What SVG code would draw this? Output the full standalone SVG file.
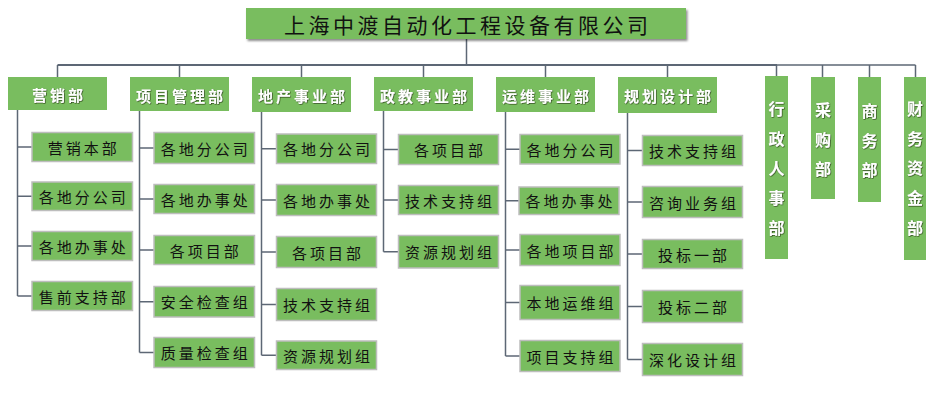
<svg xmlns="http://www.w3.org/2000/svg" width="938" height="419" viewBox="0 0 938 419">
<defs>
<filter id="sh" x="-5%" y="-20%" width="110%" height="150%">
<feDropShadow dx="1.5" dy="2" stdDeviation="1.2" flood-color="#000" flood-opacity="0.45"/>
</filter>
<filter id="ts" x="-10%" y="-20%" width="120%" height="140%">
<feDropShadow dx="0.6" dy="0.6" stdDeviation="0.4" flood-color="#1a2a10" flood-opacity="0.9"/>
</filter>
<style>
.title{fill:#79bd5f;filter:url(#sh)}
.dept{fill:#79bd5f}
.child{fill:#79bd5f;stroke:#bdbdbd;stroke-width:1.5}
text{font-family:"Noto Sans CJK SC","Noto Sans CJK TC",sans-serif;dominant-baseline:central;text-anchor:middle}
.tt{font-size:21px;letter-spacing:3.5px;fill:#111}
.dt{font-size:15px;font-weight:bold;letter-spacing:3px;fill:#fff;filter:url(#ts)}
.vt{font-size:16px;font-weight:bold;fill:#fff;filter:url(#ts)}
.ct{font-size:15px;letter-spacing:3px;fill:#111}
.ln{fill:none;stroke:#5d6775;stroke-width:1.5}
.bus{fill:none;stroke:#5d6775;stroke-width:2}
</style>
</defs>
<rect width="938" height="419" fill="#fff"/>
<g id="connectors">
<path class="ln" d="M466.5 39V65"/>
<path class="bus" d="M57.5 65H777"/>
<path class="ln" d="M777 65H915.5"/>
<path class="ln" d="M57.5 65V77M179.5 65V77M301.5 65V77M423.5 65V77M545.5 65V77M667.5 65V77M776.5 65V76M822.5 65V77M869.5 65V77M915.5 65V77"/>
<path class="ln" d="M17.5 110V296M17.5 147H32M17.5 196.3H32M17.5 246H32M17.5 296H32"/>
<path class="ln" d="M139.5 111V352.5M139.5 148H154M139.5 199H154M139.5 250H154M139.5 301.7H154M139.5 352.5H154"/>
<path class="ln" d="M261.5 112V355.3M261.5 148.7H276.5M261.5 200H276.5M261.5 252H276.5M261.5 304.5H276.5M261.5 355.3H276.5"/>
<path class="ln" d="M383.5 111V251.8M383.5 149.5H398.5M383.5 200H398.5M383.5 251.8H398.5"/>
<path class="ln" d="M505.5 112V356M505.5 149.3H520M505.5 200.7H519M505.5 250H520M505.5 302.5H520M505.5 356H520"/>
<path class="ln" d="M627.5 113V359.5M627.5 150.5H642.5M627.5 202H642.5M627.5 254H642.5M627.5 306.5H642.5M627.5 359.5H642.5"/>
</g>
<g id="company"><rect class="title" x="246" y="8" width="440" height="31"/><text class="tt" x="467.7" y="23.5">上海中渡自动化工程设备有限公司</text></g>
<g id="dept-yingxiao"><rect class="dept" x="8" y="77" width="99" height="33"/><text class="dt" x="59" y="94.5">营销部</text></g>
<g id="dept-xiangmu"><rect class="dept" x="130" y="77" width="99" height="34"/><text class="dt" x="181" y="95">项目管理部</text></g>
<g id="dept-dichan"><rect class="dept" x="252" y="77" width="99" height="35"/><text class="dt" x="303" y="95.5">地产事业部</text></g>
<g id="dept-zhengjiao"><rect class="dept" x="374" y="77" width="99" height="34"/><text class="dt" x="425" y="95.5">政教事业部</text></g>
<g id="dept-yunwei"><rect class="dept" x="496" y="77" width="99" height="35"/><text class="dt" x="547" y="95.5">运维事业部</text></g>
<g id="dept-guihua"><rect class="dept" x="618" y="77" width="99" height="36"/><text class="dt" x="669" y="95.5">规划设计部</text></g>
<g id="dept-xingzheng"><rect class="dept" x="765" y="76" width="23" height="183"/><text class="vt"><tspan x="776.5" y="108">行</tspan><tspan x="776.5" y="138">政</tspan><tspan x="776.5" y="167">人</tspan><tspan x="776.5" y="197">事</tspan><tspan x="776.5" y="227">部</tspan></text></g>
<g id="dept-caigou"><rect class="dept" x="811" y="77" width="24" height="122"/><text class="vt"><tspan x="823" y="109">采</tspan><tspan x="823" y="139">购</tspan><tspan x="823" y="168">部</tspan></text></g>
<g id="dept-shangwu"><rect class="dept" x="858" y="77" width="23" height="125"/><text class="vt"><tspan x="869.5" y="110">商</tspan><tspan x="869.5" y="140">务</tspan><tspan x="869.5" y="169">部</tspan></text></g>
<g id="dept-caiwu"><rect class="dept" x="904" y="77" width="22" height="183"/><text class="vt"><tspan x="915" y="108">财</tspan><tspan x="915" y="138">务</tspan><tspan x="915" y="167">资</tspan><tspan x="915" y="197">金</tspan><tspan x="915" y="227">部</tspan></text></g>
<g id="c1-1"><rect class="child" x="32" y="132.5" width="100.5" height="29"/><text class="ct" x="83.7" y="147">营销本部</text></g>
<g id="c1-2"><rect class="child" x="32" y="182" width="100.5" height="28.5"/><text class="ct" x="83.7" y="196.3">各地分公司</text></g>
<g id="c1-3"><rect class="child" x="32" y="231.5" width="100.5" height="29"/><text class="ct" x="83.7" y="246">各地办事处</text></g>
<g id="c1-4"><rect class="child" x="32" y="281.5" width="100.5" height="29"/><text class="ct" x="83.7" y="296">售前支持部</text></g>
<g id="c2-1"><rect class="child" x="154" y="132.5" width="100.5" height="31"/><text class="ct" x="205.7" y="148">各地分公司</text></g>
<g id="c2-2"><rect class="child" x="154" y="184.5" width="100.5" height="29"/><text class="ct" x="205.7" y="199">各地办事处</text></g>
<g id="c2-3"><rect class="child" x="154" y="235.5" width="100.5" height="29"/><text class="ct" x="205.7" y="250">各项目部</text></g>
<g id="c2-4"><rect class="child" x="154" y="286.5" width="100.5" height="30.5"/><text class="ct" x="205.7" y="301.7">安全检查组</text></g>
<g id="c2-5"><rect class="child" x="154" y="337.5" width="100.5" height="30"/><text class="ct" x="205.7" y="352.5">质量检查组</text></g>
<g id="c3-1"><rect class="child" x="276.5" y="134" width="100" height="29.5"/><text class="ct" x="328" y="148.7">各地分公司</text></g>
<g id="c3-2"><rect class="child" x="276.5" y="184.5" width="100" height="31"/><text class="ct" x="328" y="200">各地办事处</text></g>
<g id="c3-3"><rect class="child" x="276.5" y="236.5" width="100" height="31"/><text class="ct" x="328" y="252">各项目部</text></g>
<g id="c3-4"><rect class="child" x="276.5" y="288.5" width="100" height="32"/><text class="ct" x="328" y="304.5">技术支持组</text></g>
<g id="c3-5"><rect class="child" x="276.5" y="341" width="100" height="28.5"/><text class="ct" x="328" y="355.3">资源规划组</text></g>
<g id="c4-1"><rect class="child" x="398.5" y="134.5" width="100" height="30"/><text class="ct" x="450" y="149.5">各项目部</text></g>
<g id="c4-2"><rect class="child" x="398.5" y="185.5" width="100" height="29"/><text class="ct" x="450" y="200">技术支持组</text></g>
<g id="c4-3"><rect class="child" x="398.5" y="235.5" width="100" height="32.5"/><text class="ct" x="450" y="251.8">资源规划组</text></g>
<g id="c5-1"><rect class="child" x="520" y="134.5" width="100" height="29.5"/><text class="ct" x="571.5" y="149.3">各地分公司</text></g>
<g id="c5-2"><rect class="child" x="519" y="187" width="100" height="27.5"/><text class="ct" x="570.5" y="200.7">各地办事处</text></g>
<g id="c5-3"><rect class="child" x="520" y="234.5" width="100" height="31"/><text class="ct" x="571.5" y="250">各地项目部</text></g>
<g id="c5-4"><rect class="child" x="520" y="285.5" width="100" height="34"/><text class="ct" x="571.5" y="302.5">本地运维组</text></g>
<g id="c5-5"><rect class="child" x="520" y="340.5" width="100" height="31"/><text class="ct" x="571.5" y="356">项目支持组</text></g>
<g id="c6-1"><rect class="child" x="642.5" y="135.5" width="100" height="30"/><text class="ct" x="694" y="150.5">技术支持组</text></g>
<g id="c6-2"><rect class="child" x="642.5" y="186.5" width="100" height="31"/><text class="ct" x="694" y="202">咨询业务组</text></g>
<g id="c6-3"><rect class="child" x="642.5" y="239.5" width="100" height="29"/><text class="ct" x="694" y="254">投标一部</text></g>
<g id="c6-4"><rect class="child" x="642.5" y="290.5" width="100" height="32"/><text class="ct" x="694" y="306.5">投标二部</text></g>
<g id="c6-5"><rect class="child" x="642.5" y="343.5" width="100" height="32"/><text class="ct" x="694" y="359.5">深化设计组</text></g>
</svg>
